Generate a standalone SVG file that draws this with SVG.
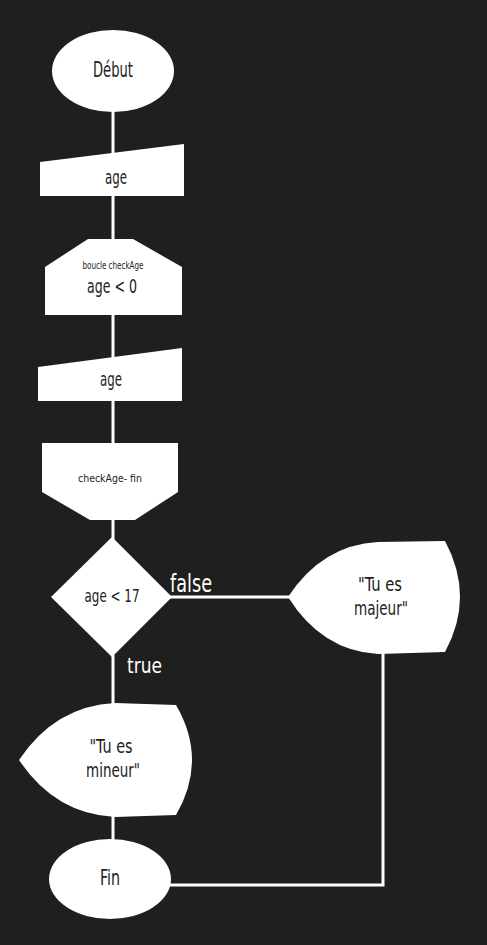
<svg xmlns="http://www.w3.org/2000/svg" width="487" height="945" viewBox="0 0 487 945">
  <style>
    .bg { fill: #1f1f1f; }
    .shape { fill: #ffffff; stroke: none; }
    .conn { stroke: #ffffff; stroke-width: 3; fill: none; }
    .t { font-family: "Liberation Sans Narrow", "DejaVu Sans Condensed", "Liberation Sans", sans-serif; fill: #222222; text-anchor: middle; }
    .lbl { font-family: "Liberation Sans Narrow", "DejaVu Sans Condensed", "Liberation Sans", sans-serif; fill: #ffffff; }
  </style>
  <rect class="bg" x="0" y="0" width="487" height="945"/>

  <g id="connectors">
    <line class="conn" x1="113" y1="110" x2="113" y2="160"/>
    <line class="conn" x1="113" y1="194" x2="113" y2="241"/>
    <line class="conn" x1="113" y1="313" x2="113" y2="362"/>
    <line class="conn" x1="113" y1="399" x2="113" y2="445"/>
    <line class="conn" x1="113" y1="518" x2="113" y2="540"/>
    <line class="conn" x1="170" y1="597" x2="290" y2="597"/>
    <line class="conn" x1="113" y1="655" x2="113" y2="705"/>
    <line class="conn" x1="113" y1="815" x2="113" y2="842"/>
    <polyline class="conn" points="383,652 383,885 168,885"/>
    <text class="lbl" x="170" y="592" font-size="25" textLength="42" lengthAdjust="spacingAndGlyphs">false</text>
    <text class="lbl" x="127" y="673" font-size="21" textLength="35" lengthAdjust="spacingAndGlyphs">true</text>
  </g>

  <g id="debut">
    <ellipse class="shape" cx="113" cy="71" rx="61" ry="41"/>
    <text class="t" x="113" y="77" font-size="22" textLength="40" lengthAdjust="spacingAndGlyphs">Début</text>
  </g>

  <g id="input-age-1">
    <polygon class="shape" points="40,162 184,144 184,196 40,196"/>
    <text class="t" x="116" y="184" font-size="19" textLength="22" lengthAdjust="spacingAndGlyphs">age</text>
  </g>

  <g id="loop-start">
    <polygon class="shape" points="88,239 133,239 182,267 182,315 45,315 45,267"/>
    <text class="t" x="113" y="269" font-size="11" textLength="61" lengthAdjust="spacingAndGlyphs">boucle checkAge</text>
    <text class="t" x="112" y="293" font-size="20" textLength="50" lengthAdjust="spacingAndGlyphs">age &lt; 0</text>
  </g>

  <g id="input-age-2">
    <polygon class="shape" points="38,367 182,348 182,401 38,401"/>
    <text class="t" x="111" y="386" font-size="19" textLength="22" lengthAdjust="spacingAndGlyphs">age</text>
  </g>

  <g id="loop-end">
    <polygon class="shape" points="42,443 178,443 178,492 135,520 90,520 42,492"/>
    <text class="t" x="110" y="482" font-size="11" textLength="64" lengthAdjust="spacingAndGlyphs">checkAge- fin</text>
  </g>

  <g id="decision">
    <polygon class="shape" points="112,537 172,597 112,657 51,597"/>
    <text class="t" x="112" y="602" font-size="18" textLength="55" lengthAdjust="spacingAndGlyphs">age &lt; 17</text>
  </g>

  <g id="display-majeur">
    <path class="shape" d="M288,597 Q322,545 378,542 L445,541 Q475,597 445,652 L378,654 Q322,651 288,597 Z"/>
    <text class="t" x="380" y="591" font-size="20" textLength="44" lengthAdjust="spacingAndGlyphs">"Tu es</text>
    <text class="t" x="381" y="615" font-size="20" textLength="54" lengthAdjust="spacingAndGlyphs">majeur"</text>
  </g>

  <g id="display-mineur">
    <path class="shape" d="M19,760 Q55,706 115,703 L176,705 Q208,760 176,815 L115,817 Q55,814 19,760 Z"/>
    <text class="t" x="111" y="753" font-size="20" textLength="43" lengthAdjust="spacingAndGlyphs">"Tu es</text>
    <text class="t" x="113" y="777" font-size="20" textLength="54" lengthAdjust="spacingAndGlyphs">mineur"</text>
  </g>

  <g id="fin">
    <ellipse class="shape" cx="110" cy="879" rx="61" ry="40"/>
    <text class="t" x="110" y="885" font-size="22" textLength="20" lengthAdjust="spacingAndGlyphs">Fin</text>
  </g>
</svg>
